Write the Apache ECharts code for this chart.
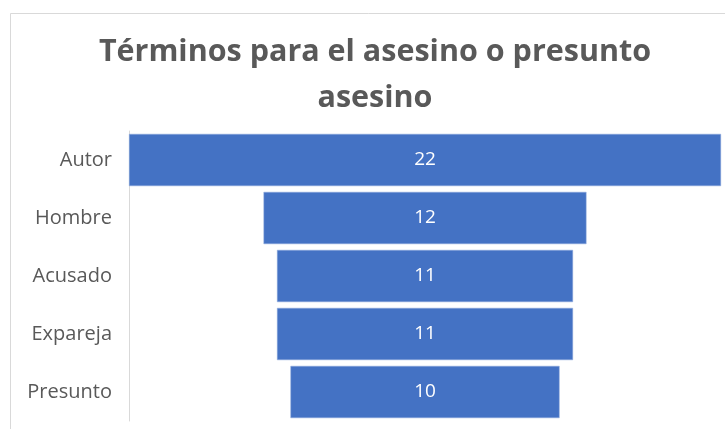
<!DOCTYPE html>
<html><head><meta charset="utf-8">
<script src="https://cdn.jsdelivr.net/npm/echarts@6/dist/echarts.min.js"></script>
<style>html,body{margin:0;padding:0;background:#fff}#c{width:725px;height:429px}</style>
</head><body><div id="c"></div>
<script>
const categories = ['Autor', 'Hombre', 'Acusado', 'Expareja', 'Presunto'];
const values = [22, 12, 11, 11, 10];
const titleText = 'Términos para el asesino o presunto\nasesino';

const maxV = Math.max(...values);
const offsets = values.map(v => (maxV - v) / 2);
const chart = echarts.init(document.getElementById('c'));
chart.setOption({
  animation: false,
  backgroundColor: '#fff',
  graphic: [{type: 'rect', shape: {x: 10.5, y: 13.5, width: 760, height: 440}, style: {fill: 'none', stroke: '#d9d9d9', lineWidth: 1}, z: -1}],
  title: {
    text: titleText, left: 370, textAlign: 'center', top: 24,
    textStyle: {fontFamily: 'Open Sans', fontWeight: 'bold', fontSize: 30.5, color: '#595959', lineHeight: 46}
  },
  grid: {left: 129, right: 4, top: 131, bottom: 8, containLabel: false},
  xAxis: {type: 'value', min: 0, max: maxV, show: false},
  yAxis: {
    type: 'category', data: categories, inverse: true,
    axisLine: {show: true, lineStyle: {color: '#d9d9d9'}},
    axisTick: {show: false},
    axisLabel: {margin: 17, fontFamily: 'Open Sans', fontSize: 20, color: '#595959'}
  },
  series: [
    {type: 'bar', stack: 'f', data: offsets, itemStyle: {color: 'transparent'}, silent: true, barCategoryGap: '10%'},
    {type: 'bar', stack: 'f', data: values, barCategoryGap: '10%',
     itemStyle: {color: '#4472c4', borderColor: '#8faadc', borderWidth: 0.5},
     label: {show: true, position: 'inside', color: '#fff', fontFamily: 'Open Sans', fontSize: 19}}
  ]
});
</script></body></html>
